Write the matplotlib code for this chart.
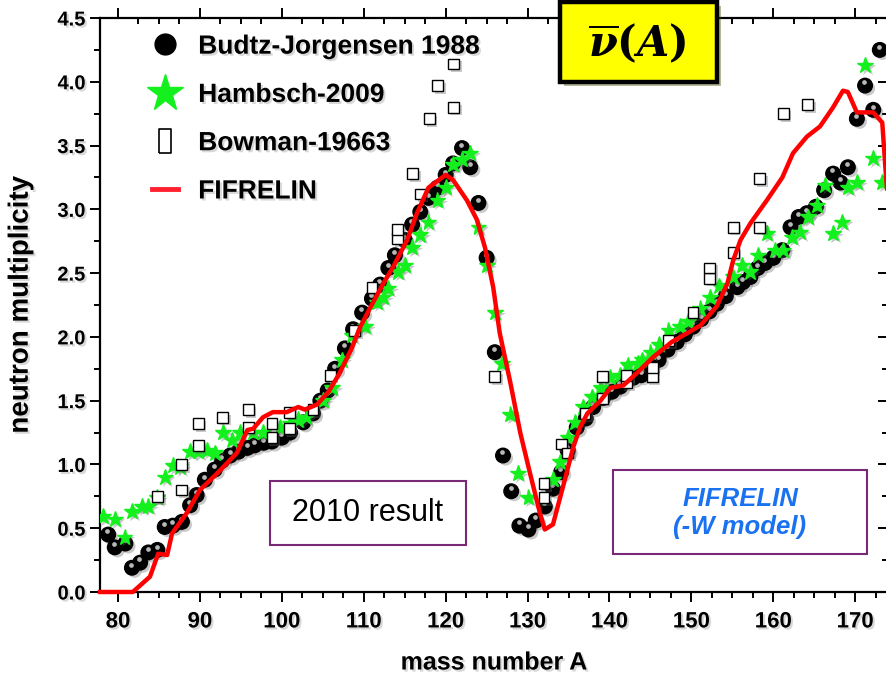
import matplotlib
matplotlib.use('Agg')
import matplotlib.pyplot as plt
import matplotlib.patheffects as pe
import matplotlib.transforms as mtransforms
from matplotlib import font_manager
from matplotlib.lines import Line2D
from matplotlib.patches import Rectangle
from matplotlib.ticker import MultipleLocator

# Budtz-Jorgensen 1988 (black spheres)
budtz_A = [78.8, 79.6, 80.9, 81.7, 82.7, 83.7, 84.8, 85.7, 86.7, 87.8, 88.8, 89.6,
           90.6, 91.8, 92.7, 93.7, 94.7, 95.8, 96.7, 97.8, 98.8, 100.0, 101.0, 102.6,
           103.8, 104.7, 105.6, 106.5, 107.7, 108.7, 109.8, 111.0, 112.0, 113.0, 113.8,
           115.0, 115.9, 116.9, 117.9, 119.0, 120.0, 120.9, 122.0, 123.0, 124.0, 125.0,
           126.0, 127.0, 128.0, 129.0, 130.1, 131.0, 132.1, 133.1, 134.1, 134.9, 136.0,
           137.1, 138.0, 139.2, 140.3, 141.3, 142.9, 143.9, 145.0, 146.0, 147.1, 148.2,
           149.2, 150.2, 151.2, 152.2, 153.1, 154.2, 155.6, 156.3, 157.2, 158.1, 159.0,
           160.0, 161.1, 162.1, 163.1, 164.1, 165.2, 166.2, 167.3, 168.2, 169.1, 170.2,
           171.2, 172.2, 173.0]
budtz_nu = [0.45, 0.35, 0.38, 0.19, 0.23, 0.31, 0.33, 0.51, 0.52, 0.55, 0.68, 0.76,
            0.88, 0.96, 1.03, 1.07, 1.10, 1.13, 1.15, 1.17, 1.18, 1.21, 1.25, 1.33,
            1.40, 1.50, 1.58, 1.75, 1.91, 2.06, 2.19, 2.30, 2.41, 2.54, 2.64,
            2.76, 2.88, 2.98, 3.09, 3.17, 3.27, 3.36, 3.48, 3.33, 3.05, 2.62,
            1.88, 1.07, 0.79, 0.52, 0.49, 0.56, 0.67, 0.81, 0.94, 1.11, 1.29,
            1.36, 1.45, 1.52, 1.57, 1.61, 1.68, 1.70, 1.76, 1.82, 1.90, 1.96,
            2.02, 2.08, 2.14, 2.20, 2.26, 2.32, 2.39, 2.43, 2.47, 2.54, 2.58,
            2.62, 2.68, 2.86, 2.94, 2.97, 3.02, 3.15, 3.28, 3.21, 3.33, 3.71,
            3.97, 3.78, 4.25]

# Hambsch-2009 (green stars)
hambsch_A = [78.2, 79.6, 80.8, 81.7, 82.9, 83.7, 84.8, 85.7, 86.7, 87.6, 88.8, 89.8,
             90.9, 91.8, 92.8, 93.9, 94.9, 96.5, 97.7, 99.8, 101.0, 102.0, 103.0, 105.0,
             106.1, 107.3, 108.6, 110.2, 111.6, 112.4, 113.0, 114.2, 115.0, 115.9, 116.9,
             117.9, 119.0, 120.0, 120.9, 122.0, 123.0, 124.0, 125.0, 126.0, 126.9, 127.9,
             128.8, 130.1, 133.1, 134.0, 134.9, 135.8, 136.8, 137.9, 138.9, 140.1, 141.3,
             142.2, 143.5, 144.0, 145.0, 146.0, 147.2, 148.6, 149.6, 151.1, 152.3, 153.4,
             155.1, 156.2, 157.2, 158.1, 159.2, 160.2, 161.2, 162.3, 163.3, 164.2, 165.3,
             166.3, 167.3, 168.4, 169.1, 170.2, 171.2, 172.2, 173.3]
hambsch_nu = [0.59, 0.57, 0.43, 0.63, 0.67, 0.67, 0.74, 0.90, 0.99, 0.98, 1.10, 1.10,
              1.11, 1.09, 1.25, 1.19, 1.25, 1.25, 1.25, 1.29, 1.32, 1.35, 1.37, 1.50,
              1.60, 1.82, 2.01, 2.08, 2.27, 2.31, 2.38, 2.51, 2.56, 2.70, 2.80,
              2.90, 3.07, 3.17, 3.35, 3.39, 3.44, 2.86, 2.56, 2.19, 1.79, 1.39,
              0.93, 0.74, 0.88, 1.02, 1.21, 1.33, 1.45, 1.53, 1.60, 1.68, 1.70,
              1.78, 1.79, 1.82, 1.88, 1.94, 2.05, 2.08, 2.12, 2.22, 2.31, 2.40,
              2.47, 2.56, 2.51, 2.64, 2.81, 2.68, 2.68, 2.78, 2.82, 2.94, 3.03,
              3.19, 2.81, 2.90, 3.17, 3.21, 4.13, 3.40, 3.21]

# Bowman-19663 (open squares)
bowman_A = [84.8, 87.8, 87.8, 89.8, 89.8, 92.8, 95.9, 95.9, 98.8, 98.8, 100.9, 100.9,
            103.8, 105.9, 108.9, 111.0, 114.1, 114.1, 116.0, 116.9, 118.0, 119.0, 121.0,
            121.0, 126.0, 132.0, 132.0, 134.1, 134.9, 137.0, 139.1, 139.1, 142.1, 142.1,
            145.2, 145.2, 147.2, 150.2, 152.2, 152.2, 155.1, 155.1, 158.3, 158.3, 161.2,
            164.2]
bowman_nu = [0.75, 0.80, 1.00, 1.15, 1.32, 1.37, 1.29, 1.43, 1.21, 1.32, 1.28, 1.41,
             1.43, 1.70, 2.05, 2.39, 2.77, 2.84, 3.28, 3.12, 3.71, 3.97, 3.80,
             4.14, 1.69, 0.74, 0.85, 1.16, 1.09, 1.40, 1.52, 1.69, 1.64, 1.70,
             1.69, 1.76, 1.97, 2.19, 2.46, 2.54, 2.66, 2.86, 2.86, 3.24, 3.75,
             3.82]

# FIFRELIN (red line)
fif_A = [77.8, 81.8, 83.9, 84.9, 86.0, 86.6, 88.4, 90.0, 92.1, 93.3, 94.5, 95.8, 96.5,
         97.7, 98.9, 100.6, 102.0, 102.8, 104.3, 105.7, 107.0, 108.6, 109.5, 110.8,
         112.4, 113.6, 115.3, 116.5, 117.9, 120.0, 120.9, 122.6, 123.8, 124.8, 125.8,
         126.6, 127.9, 129.1, 130.3, 131.5, 132.1, 133.1, 134.3, 135.6, 136.4, 137.3,
         138.9, 140.1, 141.7, 143.4, 145.3, 147.6, 149.5, 151.1, 153.1, 154.4, 155.1,
         156.0, 157.2, 159.2, 161.1, 162.4, 164.1, 165.7, 167.3, 168.5, 169.1, 170.2,
         172.2, 173.3, 173.7, 174.2]
fif_nu = [0.0, 0.0, 0.12, 0.30, 0.29, 0.46, 0.62, 0.80, 0.93, 1.01, 1.09, 1.27, 1.28,
          1.37, 1.41, 1.41, 1.45, 1.43, 1.47, 1.57, 1.71, 1.92, 2.07, 2.23,
          2.42, 2.55, 2.76, 2.97, 3.17, 3.27, 3.23, 3.07, 2.92, 2.70, 2.39,
          2.03, 1.64, 1.25, 0.93, 0.62, 0.49, 0.53, 0.82, 1.14, 1.29, 1.40,
          1.50, 1.60, 1.62, 1.72, 1.84, 1.96, 2.03, 2.09, 2.24, 2.42, 2.60,
          2.76, 2.89, 3.07, 3.25, 3.44, 3.57, 3.65, 3.80, 3.93, 3.92, 3.76,
          3.76, 3.68, 3.31, 2.90]

installed = {f.name for f in font_manager.fontManager.ttflist}
narrow = 'Liberation Sans Narrow' if 'Liberation Sans Narrow' in installed else 'Liberation Sans'
plt.rcParams['font.family'] = ['Liberation Sans', 'DejaVu Sans']
plt.rcParams['mathtext.fontset'] = 'custom'
plt.rcParams['mathtext.rm'] = 'DejaVu Serif:bold'
plt.rcParams['mathtext.it'] = 'DejaVu Serif:italic:bold'
plt.rcParams['mathtext.bf'] = 'DejaVu Serif:bold'

W, H = 886, 677
fig = plt.figure(figsize=(W / 100, H / 100), dpi=100)
ax = fig.add_axes([100 / W, 85 / H, 788 / W, 574 / H])

shadow = [pe.SimplePatchShadow(offset=(2, -2), shadow_rgbFace='0.4', alpha=0.35), pe.Normal()]
tshadow = [pe.withSimplePatchShadow(offset=(1.5, -1.5), shadow_rgbFace='0.5', alpha=0.3)]

green = '#14f01e'

ax.plot(budtz_A, budtz_nu, 'o', ms=10.5, color='black', zorder=3, path_effects=shadow)
hl = mtransforms.offset_copy(ax.transData, fig=fig, x=-0.5, y=2.3, units='points')
ax.plot(budtz_A, budtz_nu, 'o', ms=3.4, color='#b8b8b8', mec='none', transform=hl, zorder=3.1)
ax.plot(hambsch_A, hambsch_nu, '*', ms=12, color=green, mec=green, zorder=4, path_effects=shadow)
ax.plot(bowman_A, bowman_nu, 's', ms=7.8, mfc='white', mec='black', mew=1.0, zorder=4.5,
        path_effects=shadow)
ax.plot(fif_A, fif_nu, '-', color='#ff0000', lw=3.2, zorder=5, clip_on=False)

ax.set_xlim(77.8, 174.0)
ax.set_ylim(0, 4.5)
ax.xaxis.set_major_locator(MultipleLocator(10))
ax.xaxis.set_minor_locator(MultipleLocator(2.5))
ax.yaxis.set_major_locator(MultipleLocator(0.5))
ax.yaxis.set_minor_locator(MultipleLocator(0.25))
ax.yaxis.set_major_formatter(plt.FormatStrFormatter('%.1f'))

for s in ax.spines.values():
    s.set_linewidth(1.6)
ax.tick_params(which='both', width=1.4, top=True, right=True)
ax.tick_params(axis='x', which='both', direction='out', bottom=True)
ax.tick_params(which='major', length=7)
ax.tick_params(which='minor', length=4)
ax.tick_params(axis='both', which='both', labelsize=14)
# top and right ticks point inward
for t in ax.xaxis.get_major_ticks() + ax.xaxis.get_minor_ticks():
    t.tick2line.set_marker(3)
for t in ax.yaxis.get_major_ticks() + ax.yaxis.get_minor_ticks():
    t.tick2line.set_marker(0)

for lab in ax.get_xticklabels():
    lab.set_fontfamily(narrow)
    lab.set_fontweight('bold')
    lab.set_fontsize(16)
    lab.set_path_effects(tshadow)
for lab in ax.get_yticklabels():
    lab.set_fontweight('bold')
    lab.set_fontsize(14.5)
    lab.set_path_effects(tshadow)
ax.tick_params(axis='x', pad=7)

ax.set_xlabel('mass number A', fontfamily=narrow, fontweight='bold', fontsize=18,
              labelpad=13, path_effects=tshadow)
ax.set_ylabel('neutron multiplicity', fontfamily=narrow, fontweight='bold', fontsize=20,
              labelpad=17, path_effects=tshadow)

# legend
rect_marker = [(-0.55, -1), (0.55, -1), (0.55, 1), (-0.55, 1), (-0.55, -1)]
handles = [
    Line2D([], [], ls='none', marker='o', ms=15, color='black'),
    Line2D([], [], ls='none', marker='*', ms=28, color=green),
    Line2D([], [], ls='none', marker=rect_marker, ms=17, mfc='white', mec='black', mew=1.2),
    Line2D([], [], color='#ff2030', lw=3.5),
]
labels = ['Budtz-Jorgensen 1988', 'Hambsch-2009', 'Bowman-19663', 'FIFRELIN']
leg = ax.legend(handles, labels, loc='upper left', bbox_to_anchor=(0.066, 0.971),
                frameon=False, handlelength=1.0, handletextpad=0.75, labelspacing=0.92,
                borderaxespad=0, borderpad=0,
                prop={'weight': 'bold', 'size': 19})
for t in leg.get_texts():
    t.set_path_effects(tshadow)


def fx(px):
    return px / W


def fy(py):
    return 1 - py / H


# title box
title_box = Rectangle((fx(560), fy(82)), fx(157), 80 / H, transform=fig.transFigure,
                      facecolor='#ffff00', edgecolor='black', lw=3.2, zorder=10,
                      path_effects=[pe.SimplePatchShadow(offset=(3, -3), alpha=0.4), pe.Normal()])
fig.patches.append(title_box)
fig.text(fx(637), fy(44), r'$\overline{\nu}(A)$', fontsize=30, ha='center', va='center',
         zorder=11)

# annotation boxes
box1 = Rectangle((fx(270), fy(545)), fx(196), 64 / H, transform=fig.transFigure,
                 facecolor='white', edgecolor='#7a2878', lw=1.5, zorder=10)
fig.patches.append(box1)
fig.text(fx(368), fy(513), '2010 result', fontsize=22, ha='center', va='center', zorder=11)

box2 = Rectangle((fx(613), fy(554)), fx(254), 84 / H, transform=fig.transFigure,
                 facecolor='white', edgecolor='#7a2878', lw=1.5, zorder=10)
fig.patches.append(box2)
fig.text(fx(740), fy(513), 'FIFRELIN\n(-W model)', fontsize=18.5, fontweight='bold',
         fontstyle='italic', color='#1a72f0', ha='center', va='center', zorder=11,
         linespacing=1.25)

fig.savefig('out.png', dpi=100)
